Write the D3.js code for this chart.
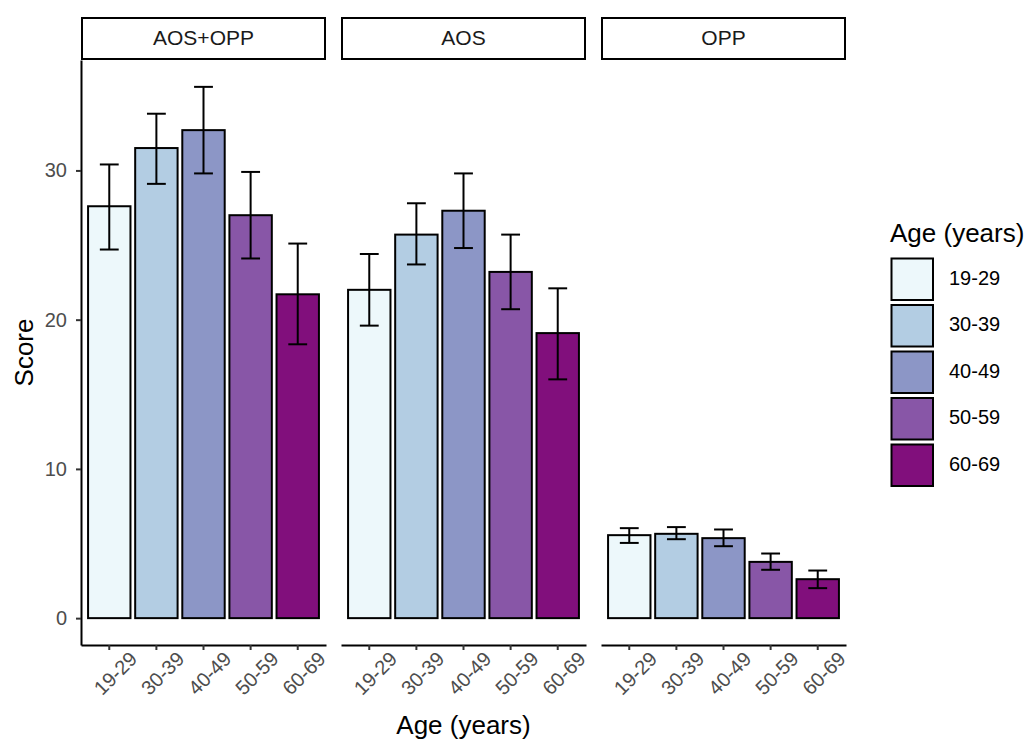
<!DOCTYPE html>
<html>
<head>
<meta charset="utf-8">
<script src="https://cdn.jsdelivr.net/npm/d3@7"></script>
<style>
  body { margin: 0; background: #fff; }
  svg { display: block; font-family: "Liberation Sans", Arial, sans-serif; }
</style>
</head>
<body>
<svg width="1028" height="742"></svg>
<script>
const facets = ["AOS+OPP", "AOS", "OPP"];
const ages = ["19-29", "30-39", "40-49", "50-59", "60-69"];
const colors = ["#edf8fb", "#b3cde3", "#8c96c6", "#8856a7", "#810f7c"];
const yTicks = [0, 10, 20, 30];

// mean score, lower and upper error bar, one row per facet
const means = [
    [27.6, 31.5, 32.7, 27.0, 21.7],
    [22.0, 25.7, 27.3, 23.2, 19.1],
    [5.56, 5.65, 5.36, 3.77, 2.61]
];
const lower = [
    [24.7, 29.1, 29.8, 24.1, 18.35],
    [19.6, 23.7, 24.8, 20.7, 16.0],
    [5.04, 5.29, 4.82, 3.24, 2.01]
];
const upper = [
    [30.4, 33.8, 35.6, 29.9, 25.1],
    [24.4, 27.8, 29.8, 25.7, 22.1],
    [6.03, 6.10, 5.94, 4.33, 3.19]
];

const svg = d3.select("svg");
const panelTop = 60;
const panelBottom = 645;
const smallFont = 20;
const titleFont = 26;
const lw = 2;

const y = d3.scaleLinear().domain([-1.8, 37.4]).range([panelBottom, panelTop]);
const fx = d3.scaleBand().domain(facets).range([81, 846]).paddingInner(15 / 260);
const color = d3.scaleOrdinal().domain(ages).range(colors);

facets.forEach((facet, fi) => {
    const x0 = fx(facet);
    const w = fx.bandwidth();
    const x = d3.scaleBand().domain(ages).range([x0, x0 + w]).paddingInner(0.1).paddingOuter(0.15);
    const g = svg.append("g");

    // strip
    g.append("rect")
        .attr("x", x0 + 1)
        .attr("y", 18)
        .attr("width", w - 2)
        .attr("height", 41)
        .attr("fill", "#fff")
        .attr("stroke", "#000")
        .attr("stroke-width", lw);
    g.append("text")
        .attr("x", x0 + w / 2)
        .attr("y", 39)
        .attr("text-anchor", "middle")
        .attr("dominant-baseline", "middle")
        .attr("font-size", 21)
        .attr("fill", "#1a1a1a")
        .text(facet);

    // bars
    g.selectAll(".bar")
        .data(ages)
        .join("rect")
        .attr("x", d => x(d))
        .attr("y", (d, i) => y(means[fi][i]))
        .attr("width", x.bandwidth())
        .attr("height", (d, i) => y(0) - y(means[fi][i]))
        .attr("fill", d => color(d))
        .attr("stroke", "#000")
        .attr("stroke-width", lw);

    // error bars
    const half = x.step() * 0.2;
    ages.forEach((a, i) => {
        const cx = x(a) + x.bandwidth() / 2;
        const eb = g.append("g").attr("stroke", "#000").attr("stroke-width", lw);
        eb.append("line").attr("x1", cx).attr("x2", cx)
            .attr("y1", y(upper[fi][i])).attr("y2", y(lower[fi][i]));
        eb.append("line").attr("x1", cx - half).attr("x2", cx + half)
            .attr("y1", y(upper[fi][i])).attr("y2", y(upper[fi][i]));
        eb.append("line").attr("x1", cx - half).attr("x2", cx + half)
            .attr("y1", y(lower[fi][i])).attr("y2", y(lower[fi][i]));
    });

    // x axis
    const xAxis = g.append("g")
        .attr("transform", `translate(0,${panelBottom})`)
        .call(d3.axisBottom(x).tickSize(5).tickSizeOuter(0));
    xAxis.select(".domain").attr("stroke", "#000").attr("stroke-width", lw);
    xAxis.selectAll(".tick line").attr("stroke", "#333").attr("stroke-width", lw);
    xAxis.selectAll(".tick text")
        .attr("font-size", smallFont)
        .attr("fill", "#4d4d4d")
        .attr("font-family", "Liberation Sans, Arial, sans-serif")
        .attr("text-anchor", "end")
        .attr("dy", null)
        .attr("transform", "translate(19,5) rotate(-45)")
        .attr("y", 0)
        .attr("x", 0)
        .attr("dominant-baseline", "hanging");

    // y axis only on first panel
    if (fi === 0) {
        const yAxis = g.append("g")
            .attr("transform", `translate(${x0},0)`)
            .call(d3.axisLeft(y).tickValues(yTicks).tickSize(5).tickSizeOuter(0).tickPadding(9));
        yAxis.select(".domain").attr("stroke", "#000").attr("stroke-width", lw);
        yAxis.selectAll(".tick line").attr("stroke", "#333").attr("stroke-width", lw);
        yAxis.selectAll(".tick text")
            .attr("font-size", smallFont)
            .attr("fill", "#4d4d4d")
            .attr("font-family", "Liberation Sans, Arial, sans-serif");
    }
});

// axis titles
svg.append("text")
    .attr("transform", `translate(33,${(panelTop + panelBottom) / 2}) rotate(-90)`)
    .attr("text-anchor", "middle")
    .attr("font-size", titleFont)
    .attr("fill", "#000")
    .text("Score");

svg.append("text")
    .attr("x", (81 + 846) / 2)
    .attr("y", 734)
    .attr("text-anchor", "middle")
    .attr("font-size", titleFont)
    .attr("fill", "#000")
    .text("Age (years)");

// legend
const legend = svg.append("g").attr("transform", "translate(890,0)");
legend.append("text")
    .attr("x", 0)
    .attr("y", 242)
    .attr("font-size", titleFont)
    .attr("fill", "#000")
    .text("Age (years)");

const keyStep = 46.5;
const legendRows = legend.selectAll(".key")
    .data(ages)
    .join("g")
    .attr("transform", (d, i) => `translate(0,${258 + i * keyStep})`);
legendRows.append("rect")
    .attr("x", 1.5)
    .attr("y", 0.5)
    .attr("width", 41.5)
    .attr("height", 41.5)
    .attr("fill", d => color(d))
    .attr("stroke", "#000")
    .attr("stroke-width", lw);
legendRows.append("text")
    .attr("x", 59)
    .attr("y", 21.5)
    .attr("dominant-baseline", "middle")
    .attr("font-size", smallFont)
    .attr("fill", "#000")
    .text(d => d);
</script>
</body>
</html>
